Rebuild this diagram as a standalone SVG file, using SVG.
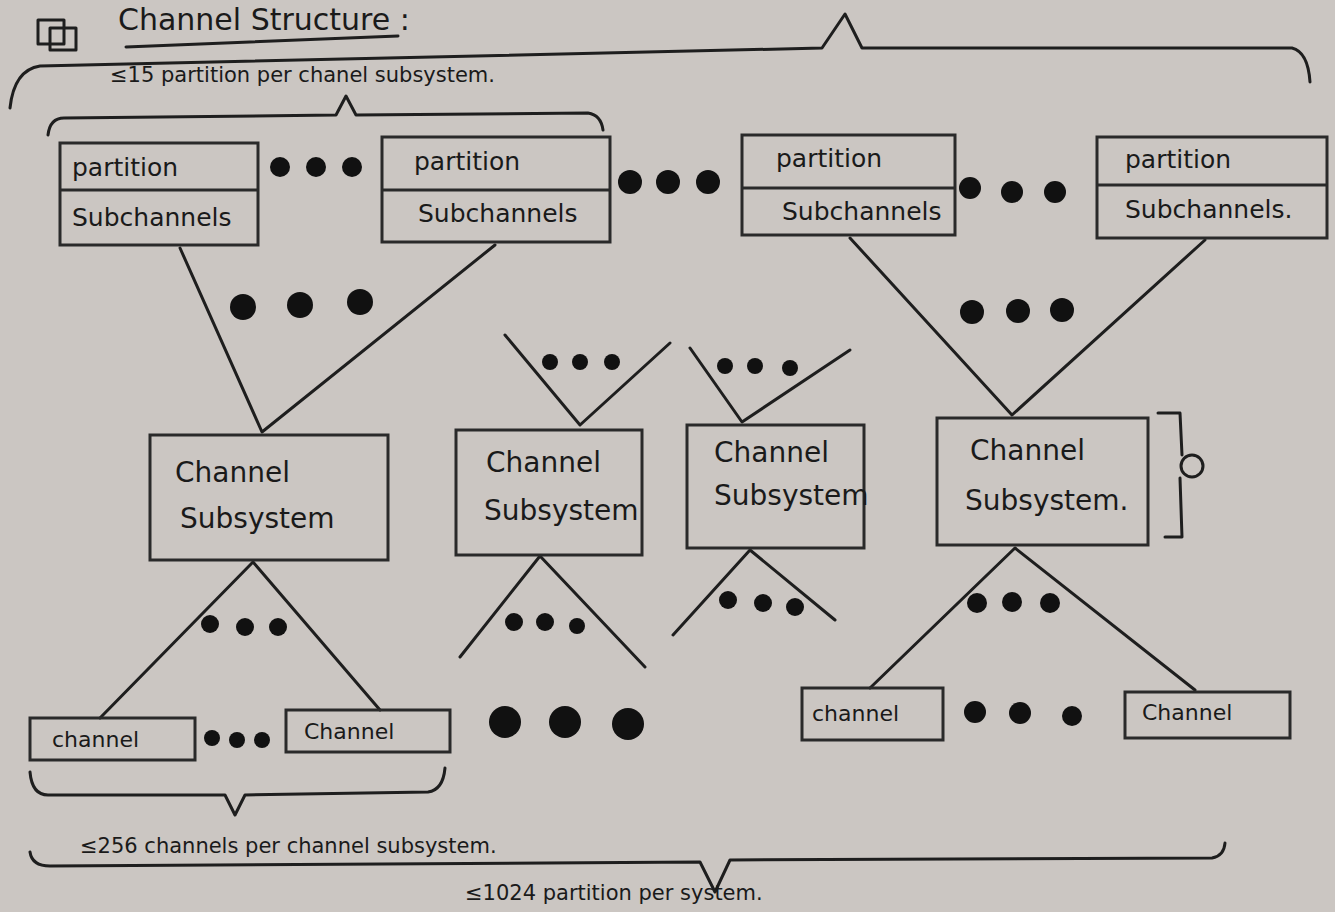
<svg xmlns="http://www.w3.org/2000/svg" width="1335" height="912" viewBox="0 0 1335 912">
<style>
.ink{fill:none;stroke:#1e1e1e;stroke-width:3;stroke-linecap:round;stroke-linejoin:round}
.box{fill:none;stroke:#2a2a2a;stroke-width:3}
.dot{fill:#111}
.t{font-family:"DejaVu Sans","Liberation Sans",sans-serif;fill:#1a1a1a}
.pt{font-size:25px}
.cs{font-size:28px}
.ch{font-size:22px}
.note{font-size:21px}
</style>
<rect width="1335" height="912" fill="#cbc6c2"/>
<g id="title">
<rect x="38" y="20" width="26" height="24" class="ink"/>
<rect x="50" y="28" width="26" height="22" class="ink"/>
<text x="118" y="30" class="t" font-size="30">Channel Structure :</text>
<path d="M126 47 L398 36" class="ink"/>
</g>
<g id="braces">
<path d="M10 108 Q14 70 40 66 L822 48 L845 14 L862 48 L1292 48 Q1308 52 1310 82" class="ink"/>
<path d="M48 135 Q50 118 64 118 L336 115 L346 96 L356 115 L588 113 Q601 115 603 130" class="ink"/>
<path d="M30 772 Q32 795 48 795 L225 795 L235 815 L245 795 L428 792 Q443 790 445 768" class="ink"/>
<path d="M30 852 Q32 866 50 866 L700 862 L715 892 L730 860 L1212 858 Q1224 856 1225 843" class="ink"/>
<path d="M1158 413 L1180 413 L1182 455 M1180 478 L1182 537 L1165 537" class="ink"/>
<circle cx="1192" cy="466" r="11" class="ink"/>
</g>
<g id="notes">
<text x="110" y="82" class="t note">≤15 partition per chanel subsystem.</text>
<text x="80" y="853" class="t note">≤256 channels per channel subsystem.</text>
<text x="465" y="900" class="t note">≤1024 partition per system.</text>
</g>
<g id="connectors">
<path d="M180 248 L262 432 L495 245" class="ink"/>
<path d="M850 238 L1012 415 L1205 240" class="ink"/>
<path d="M505 335 L580 425 L670 343" class="ink"/>
<path d="M690 348 L742 422 L850 350" class="ink"/>
<path d="M100 718 L253 562 L380 710" class="ink"/>
<path d="M460 657 L540 556 L645 667" class="ink"/>
<path d="M673 635 L750 550 L835 620" class="ink"/>
<path d="M870 688 L1015 548 L1195 690" class="ink"/>
</g>
<g id="dots">
<circle cx="280" cy="167" r="10" class="dot"/><circle cx="316" cy="167" r="10" class="dot"/><circle cx="352" cy="167" r="10" class="dot"/>
<circle cx="630" cy="182" r="12" class="dot"/><circle cx="668" cy="182" r="12" class="dot"/><circle cx="708" cy="182" r="12" class="dot"/>
<circle cx="970" cy="188" r="11" class="dot"/><circle cx="1012" cy="192" r="11" class="dot"/><circle cx="1055" cy="192" r="11" class="dot"/>
<circle cx="243" cy="307" r="13" class="dot"/><circle cx="300" cy="305" r="13" class="dot"/><circle cx="360" cy="302" r="13" class="dot"/>
<circle cx="972" cy="312" r="12" class="dot"/><circle cx="1018" cy="311" r="12" class="dot"/><circle cx="1062" cy="310" r="12" class="dot"/>
<circle cx="550" cy="362" r="8" class="dot"/><circle cx="580" cy="362" r="8" class="dot"/><circle cx="612" cy="362" r="8" class="dot"/>
<circle cx="725" cy="366" r="8" class="dot"/><circle cx="755" cy="366" r="8" class="dot"/><circle cx="790" cy="368" r="8" class="dot"/>
<circle cx="210" cy="624" r="9" class="dot"/><circle cx="245" cy="627" r="9" class="dot"/><circle cx="278" cy="627" r="9" class="dot"/>
<circle cx="514" cy="622" r="9" class="dot"/><circle cx="545" cy="622" r="9" class="dot"/><circle cx="577" cy="626" r="8" class="dot"/>
<circle cx="728" cy="600" r="9" class="dot"/><circle cx="763" cy="603" r="9" class="dot"/><circle cx="795" cy="607" r="9" class="dot"/>
<circle cx="977" cy="603" r="10" class="dot"/><circle cx="1012" cy="602" r="10" class="dot"/><circle cx="1050" cy="603" r="10" class="dot"/>
<circle cx="212" cy="738" r="8" class="dot"/><circle cx="237" cy="740" r="8" class="dot"/><circle cx="262" cy="740" r="8" class="dot"/>
<circle cx="505" cy="722" r="16" class="dot"/><circle cx="565" cy="722" r="16" class="dot"/><circle cx="628" cy="724" r="16" class="dot"/>
<circle cx="975" cy="712" r="11" class="dot"/><circle cx="1020" cy="713" r="11" class="dot"/><circle cx="1072" cy="716" r="10" class="dot"/>
</g>
<g id="partition1"><rect x="60" y="143" width="198" height="102" class="box"/><path d="M60 190 L258 190" class="box"/><text x="72" y="176" class="t pt">partition</text><text x="72" y="226" class="t pt">Subchannels</text></g>
<g id="partition2"><rect x="382" y="137" width="228" height="105" class="box"/><path d="M382 190 L610 190" class="box"/><text x="414" y="170" class="t pt">partition</text><text x="418" y="222" class="t pt">Subchannels</text></g>
<g id="partition3"><rect x="742" y="135" width="213" height="100" class="box"/><path d="M742 188 L955 188" class="box"/><text x="776" y="167" class="t pt">partition</text><text x="782" y="220" class="t pt">Subchannels</text></g>
<g id="partition4"><rect x="1097" y="137" width="230" height="101" class="box"/><path d="M1097 185 L1327 185" class="box"/><text x="1125" y="168" class="t pt">partition</text><text x="1125" y="218" class="t pt">Subchannels.</text></g>
<g id="cs1"><rect x="150" y="435" width="238" height="125" class="box"/><text x="175" y="482" class="t cs">Channel</text><text x="180" y="528" class="t cs">Subsystem</text></g>
<g id="cs2"><rect x="456" y="430" width="186" height="125" class="box"/><text x="486" y="472" class="t cs">Channel</text><text x="484" y="520" class="t cs">Subsystem</text></g>
<g id="cs3"><rect x="687" y="425" width="177" height="123" class="box"/><text x="714" y="462" class="t cs">Channel</text><text x="714" y="505" class="t cs">Subsystem</text></g>
<g id="cs4"><rect x="937" y="418" width="211" height="127" class="box"/><text x="970" y="460" class="t cs">Channel</text><text x="965" y="510" class="t cs">Subsystem.</text></g>
<g id="ch1"><rect x="30" y="718" width="165" height="42" class="box"/><text x="52" y="747" class="t ch">channel</text></g>
<g id="ch2"><rect x="286" y="710" width="164" height="42" class="box"/><text x="304" y="739" class="t ch">Channel</text></g>
<g id="ch3"><rect x="802" y="688" width="141" height="52" class="box"/><text x="812" y="721" class="t ch">channel</text></g>
<g id="ch4"><rect x="1125" y="692" width="165" height="46" class="box"/><text x="1142" y="720" class="t ch">Channel</text></g>
</svg>
